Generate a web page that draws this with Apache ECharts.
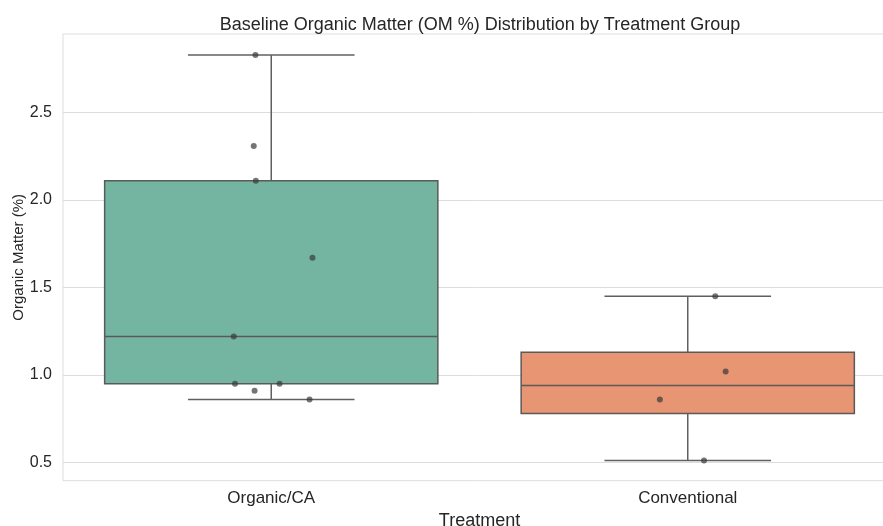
<!DOCTYPE html>
<html><head><meta charset="utf-8">
<script src="https://cdn.jsdelivr.net/npm/echarts@6/dist/echarts.min.js"></script>
<style>html,body{margin:0;padding:0;background:#fff}#c{width:883px;height:526px}</style>
</head><body><div id="c"></div>
<script>
const categories = ['Organic/CA', 'Conventional'];
const boxMin = [0.86, 0.51];
const boxQ1 = [0.95, 0.78];
const boxMedian = [1.22, 0.94];
const boxQ3 = [2.11, 1.13];
const boxMax = [2.83, 1.45];
const boxColors = ['#73b5a1', '#e89573'];
const organicValues = [2.83, 2.31, 2.11, 1.67, 1.22, 0.95, 0.95, 0.91, 0.86];
const organicJitter = [-0.038, -0.042, -0.037, 0.099, -0.090, -0.087, 0.020, -0.040, 0.092];
const conventionalValues = [1.45, 1.02, 0.86, 0.51];
const conventionalJitter = [0.066, 0.091, -0.067, 0.039];
const yTicks = [0.5, 1.0, 1.5, 2.0, 2.5];
const yMin = 0.395, yMax = 2.95;

const FONT = 'Liberation Sans, Arial, sans-serif';
const boxData = categories.map((c, i) => [i, boxMin[i], boxQ1[i], boxMedian[i], boxQ3[i], boxMax[i]]);
const pts = [];
organicValues.forEach((v, i) => pts.push([0 + organicJitter[i], v]));
conventionalValues.forEach((v, i) => pts.push([1 + conventionalJitter[i], v]));

const chart = echarts.init(document.getElementById('c'), null, {renderer: 'canvas'});
chart.setOption({
  animation: false,
  backgroundColor: '#fff',
  title: {
    text: 'Baseline Organic Matter (OM %) Distribution by Treatment Group',
    left: 475, top: 11, textAlign: 'center',
    textStyle: {fontFamily: FONT, fontSize: 18, fontWeight: 'normal', color: '#262626'}
  },
  grid: {left: 63, top: 34, width: 833, height: 446.7, outerBoundsMode: 'none', containLabel: false,
    show: true, borderColor: '#dddddd', borderWidth: 1, backgroundColor: 'transparent'},
  xAxis: [{
    type: 'category', data: categories,
    name: 'Treatment', nameLocation: 'middle', nameGap: 31, nameMoveOverlap: false,
    nameTextStyle: {fontFamily: FONT, fontSize: 18, color: '#262626'},
    axisLine: {show: false}, axisTick: {show: false},
    axisLabel: {fontFamily: FONT, fontSize: 17, color: '#262626', margin: 9},
    splitLine: {show: false}
  }, {
    type: 'value', min: -0.5, max: 1.5, show: false
  }],
  yAxis: {
    type: 'value', min: yMin, max: yMax,
    name: 'Organic Matter (%)', nameLocation: 'middle', nameGap: 37, nameMoveOverlap: false,
    nameTextStyle: {fontFamily: FONT, fontSize: 15, color: '#262626'},
    axisLine: {show: false},
    axisTick: {show: false, customValues: yTicks},
    axisLabel: {fontFamily: FONT, fontSize: 16, color: '#262626', margin: 11, customValues: yTicks,
      formatter: v => Number(v).toFixed(1)},
    splitLine: {show: true, lineStyle: {color: '#dddddd', width: 1}}
  },
  series: [{
    type: 'custom', xAxisIndex: 0, yAxisIndex: 0,
    data: boxData,
    encode: {x: 0, y: [1, 2, 3, 4, 5]},
    renderItem: function (params, api) {
      const c = api.value(0);
      const pMin = api.coord([c, api.value(1)]);
      const pQ1 = api.coord([c, api.value(2)]);
      const pMed = api.coord([c, api.value(3)]);
      const pQ3 = api.coord([c, api.value(4)]);
      const pMax = api.coord([c, api.value(5)]);
      const band = api.size([1, 0])[0];
      const w = band * 0.8, x = pMed[0];
      const ls = {stroke: '#606060', lineWidth: 1.5};
      return {type: 'group', children: [
        {type: 'line', shape: {x1: x, y1: pQ3[1], x2: x, y2: pMax[1]}, style: ls},
        {type: 'line', shape: {x1: x, y1: pQ1[1], x2: x, y2: pMin[1]}, style: ls},
        {type: 'line', shape: {x1: x - w / 4, y1: pMax[1], x2: x + w / 4, y2: pMax[1]}, style: ls},
        {type: 'line', shape: {x1: x - w / 4, y1: pMin[1], x2: x + w / 4, y2: pMin[1]}, style: ls},
        {type: 'rect', shape: {x: x - w / 2, y: pQ3[1], width: w, height: pQ1[1] - pQ3[1]},
          style: {fill: boxColors[c], stroke: '#5a5a5a', lineWidth: 1.5}},
        {type: 'line', shape: {x1: x - w / 2, y1: pMed[1], x2: x + w / 2, y2: pMed[1]}, style: {stroke: '#5a5a5a', lineWidth: 1.5}}
      ]};
    }
  }, {
    type: 'scatter', xAxisIndex: 1, yAxisIndex: 0,
    data: pts, symbolSize: 6,
    itemStyle: {color: '#3a3a3a', opacity: 0.7}
  }]
});
</script></body></html>
